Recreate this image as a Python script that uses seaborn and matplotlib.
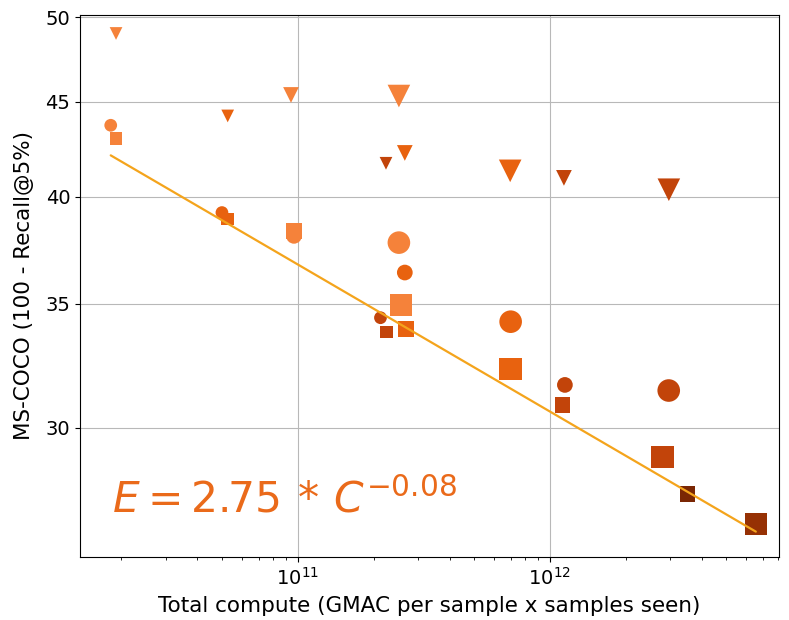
import numpy as np
import pandas as pd
import matplotlib
matplotlib.use("Agg")
import matplotlib.pyplot as plt
import seaborn as sns
from matplotlib.ticker import FixedLocator, FixedFormatter, NullLocator

# Scaling runs: model architecture, pre-training dataset, samples seen,
# total compute (GMAC per sample x samples seen) and MS-COCO retrieval error.
model = (["B/32", "B/32", "B/32", "B/16", "B/16", "B/16", "L/14", "L/14", "L/14"]
         + ["B/32", "B/32", "B/32", "B/16", "B/16", "B/16", "L/14", "L/14", "L/14"]
         + ["B/32", "B/32", "B/32", "B/16", "B/16", "B/16", "L/14", "L/14", "L/14",
            "g/14", "H/14"])
dataset = ["80M"] * 9 + ["400M"] * 9 + ["2B"] * 11
samples = (["3B", "13B", "34B"] * 3
           + ["3B", "13B", "34B"] * 3
           + ["3B", "13B", "34B"] * 3 + ["13B", "34B"])
compute = [1.905e10, 9.41e10, 2.52e11, 5.28e10, 2.66e11, 6.96e11, 2.24e11, 1.137e12, 2.963e12,
           1.815e10, 9.67e10, 2.52e11, 5.01e10, 2.66e11, 6.99e11, 2.13e11, 1.147e12, 2.96e12,
           1.905e10, 9.67e10, 2.567e11, 5.28e10, 2.687e11, 7.00e11, 2.254e11, 1.123e12, 2.796e12,
           3.514e12, 6.555e12]
error = [49.0, 45.39, 45.33, 44.22, 42.23, 41.30, 41.69, 40.94, 40.34,
         43.71, 38.09, 37.77, 39.21, 36.39, 34.23, 34.40, 31.64, 31.42,
         42.99, 38.33, 34.95, 38.90, 33.91, 32.27, 33.79, 30.87, 28.93,
         27.62, 26.61]

# Power-law fit E = a * C^b (E as a fraction)
fit_coef = 2.7549
fit_exp = -0.07952

y_ticks = [30, 35, 40, 45, 50]

palette = {"B/32": "#F5823A", "B/16": "#E8620F", "L/14": "#C2440A",
           "H/14": "#963104", "g/14": "#7A2604"}
markers = {"80M": "v", "400M": "o", "2B": "s"}
sizes = {"3B": 84, "13B": 128, "34B": 265}

sns.set_theme(style="ticks")
plt.rcParams.update({
    "font.family": ["DejaVu Sans"],
    "axes.edgecolor": "black",
    "axes.linewidth": 0.8,
    "xtick.color": "black",
    "ytick.color": "black",
    "xtick.major.size": 3.5,
    "ytick.major.size": 3.5,
    "xtick.minor.size": 2,
    "xtick.major.width": 0.8,
    "ytick.major.width": 0.8,
    "xtick.minor.width": 0.6,
    "xtick.labelsize": 14,
    "ytick.labelsize": 14,
    "axes.labelsize": 15.5,
    "axes.labelcolor": "black",
})

df = pd.DataFrame({"model": model, "dataset": dataset, "samples": samples,
                   "compute": compute, "error": error})

fig = plt.figure(figsize=(7.89, 6.2), dpi=100)
ax = fig.add_axes([80 / 789, 1 - 557 / 620, 699 / 789, 542 / 620])

sns.scatterplot(data=df, x="compute", y="error", hue="model", style="dataset",
                size="samples", palette=palette, markers=markers, sizes=sizes,
                linewidth=0, alpha=1, legend=False, ax=ax, zorder=3)

c_fit = np.geomspace(min(compute), max(compute), 200)
e_fit = 100 * fit_coef * c_fit ** fit_exp
sns.lineplot(x=c_fit, y=e_fit, color="#F4A41C", linewidth=1.6, ax=ax, zorder=4)

ax.set_xscale("log")
ax.set_yscale("log")
ax.set_xlim(1.371e10, 8.1e12)
ax.set_ylim(25.54, 50.14)

ax.yaxis.set_major_locator(FixedLocator(y_ticks))
ax.yaxis.set_major_formatter(FixedFormatter([str(t) for t in y_ticks]))
ax.yaxis.set_minor_locator(NullLocator())

ax.grid(True, which="major", color="#b8b8b8", linewidth=0.8)
ax.set_axisbelow(True)

ax.set_xlabel("Total compute (GMAC per sample x samples seen)", labelpad=5)
ax.set_ylabel("MS-COCO (100 - Recall@5%)", labelpad=8)

ax.text(0.046, 0.083,
        rf"$E = {fit_coef:.2f}\,*\,C^{{{fit_exp:.2f}}}$",
        transform=ax.transAxes, fontsize=30.5, color="#EA6A1A",
        ha="left", va="baseline")

fig.savefig("out.png", dpi=100)
